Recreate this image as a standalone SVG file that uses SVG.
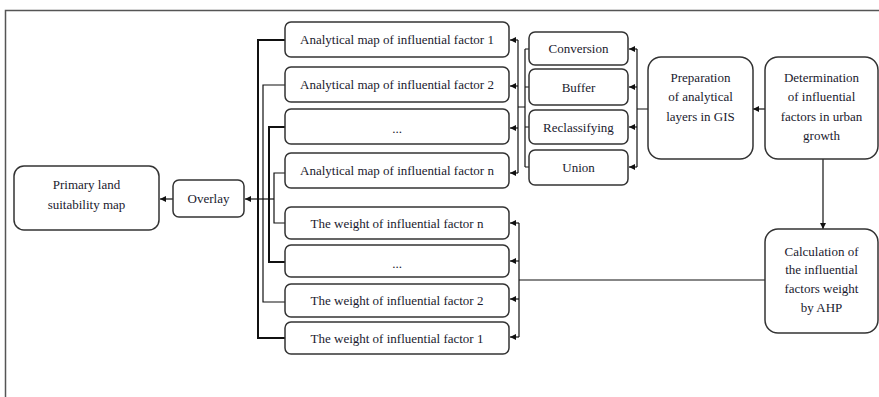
<svg xmlns="http://www.w3.org/2000/svg" width="879" height="397" viewBox="0 0 879 397">
<defs>
<marker id="ah" viewBox="0 0 6 6" refX="6" refY="3" markerWidth="6" markerHeight="6" orient="auto" markerUnits="userSpaceOnUse">
<path d="M0,0 L6,3 L0,6 z" fill="#111"/>
</marker>
<style>
.b{fill:#fff;stroke:#333;stroke-width:1.5}
.t{font-family:"Liberation Serif","Times New Roman",serif;font-size:13px;fill:#1a1a2e;text-anchor:middle}
.c{fill:none;stroke:#111;stroke-width:1.2}
.k{fill:none;stroke:#111;stroke-width:2}
.a{marker-end:url(#ah)}
</style>
</defs>
<rect width="879" height="397" fill="#fff"/>
<path d="M5.5,397 V10.5 H879" fill="none" stroke="#555" stroke-width="1.5"/>

<g id="connectors">
<!-- Determination -> Preparation -->
<path class="c a" d="M765,109 H753"/>
<!-- Determination -> Calculation -->
<path class="c a" d="M823,159 V229"/>
<!-- Preparation -> tools -->
<path class="c" d="M648,109 H637 M637,49 V167"/>
<path class="c a" d="M637,49 H629"/>
<path class="c a" d="M637,87 H629"/>
<path class="c a" d="M637,127 H629"/>
<path class="c a" d="M637,167 H629"/>
<!-- tools -> analytical maps -->
<path class="c" d="M529,49 H525 M529,87 H525 M529,127 H525 M529,167 H525 M525,49 V167 M525,107 H518 M518,40 V173"/>
<path class="c a" d="M518,40 H510"/>
<path class="c a" d="M518,86 H510"/>
<path class="c a" d="M518,128 H510"/>
<path class="c a" d="M518,173 H510"/>
<!-- Calculation -> weights -->
<path class="c" d="M765,280 H519 M519,223 V337"/>
<path class="c a" d="M519,223 H510"/>
<path class="c a" d="M519,261 H510"/>
<path class="c a" d="M519,299 H510"/>
<path class="c a" d="M519,337 H510"/>
<!-- left bracket to overlay -->
<path class="k" d="M285,40 H258 V338 H285"/>
<path class="c" d="M285,85 H263 V302 H285"/>
<path class="k" d="M285,127 H269 V262 H285"/>
<path class="c" d="M285,173 H274 V223 H285"/>
<path class="c a" d="M274,199 H245"/>
<path class="c a" d="M173,199 H160"/>
</g>

<g id="primary"><rect class="b" x="14" y="166" width="145" height="64" rx="10"/>
<text class="t" x="86.5" y="189">Primary land</text><text class="t" x="86.5" y="209">suitability map</text></g>
<g id="overlay"><rect class="b" x="173" y="180" width="71" height="37" rx="6"/>
<text class="t" x="208.5" y="203">Overlay</text></g>

<g id="map1"><rect class="b" x="285" y="22" width="224" height="35" rx="6"/><text class="t" x="397" y="44">Analytical map of influential factor 1</text></g>
<g id="map2"><rect class="b" x="285" y="67" width="224" height="35" rx="6"/><text class="t" x="397" y="89">Analytical map of influential factor 2</text></g>
<g id="map3"><rect class="b" x="285" y="109" width="224" height="35" rx="6"/><text class="t" x="397" y="133">...</text></g>
<g id="mapn"><rect class="b" x="285" y="153" width="224" height="35" rx="6"/><text class="t" x="397" y="175">Analytical map of influential factor n</text></g>

<g id="wn"><rect class="b" x="285" y="207" width="224" height="32" rx="6"/><text class="t" x="397" y="228">The weight of influential factor n</text></g>
<g id="w3"><rect class="b" x="285" y="245" width="224" height="32" rx="6"/><text class="t" x="397" y="268">...</text></g>
<g id="w2"><rect class="b" x="285" y="284" width="224" height="33" rx="6"/><text class="t" x="397" y="305">The weight of influential factor 2</text></g>
<g id="w1"><rect class="b" x="285" y="322" width="224" height="32" rx="6"/><text class="t" x="397" y="343">The weight of influential factor 1</text></g>

<g id="conversion"><rect class="b" x="529" y="32" width="99" height="33" rx="6"/><text class="t" x="578.5" y="53">Conversion</text></g>
<g id="buffer"><rect class="b" x="529" y="69" width="99" height="36" rx="6"/><text class="t" x="578.5" y="92">Buffer</text></g>
<g id="reclass"><rect class="b" x="529" y="110" width="99" height="34" rx="6"/><text class="t" x="578.5" y="132">Reclassifying</text></g>
<g id="union"><rect class="b" x="529" y="150" width="99" height="35" rx="6"/><text class="t" x="578.5" y="172">Union</text></g>

<g id="preparation"><rect class="b" x="648" y="57" width="105" height="102" rx="13"/>
<text class="t" x="700.5" y="82">Preparation</text><text class="t" x="700.5" y="101">of analytical</text><text class="t" x="700.5" y="121">layers in GIS</text></g>
<g id="determination"><rect class="b" x="765" y="57" width="113" height="102" rx="13"/>
<text class="t" x="821.5" y="82">Determination</text><text class="t" x="821.5" y="101">of influential</text><text class="t" x="821.5" y="121">factors in urban</text><text class="t" x="821.5" y="140">growth</text></g>
<g id="calculation"><rect class="b" x="765" y="229" width="113" height="104" rx="13"/>
<text class="t" x="821.5" y="256">Calculation of</text><text class="t" x="821.5" y="274">the influential</text><text class="t" x="821.5" y="293">factors weight</text><text class="t" x="821.5" y="312">by AHP</text></g>
</svg>
